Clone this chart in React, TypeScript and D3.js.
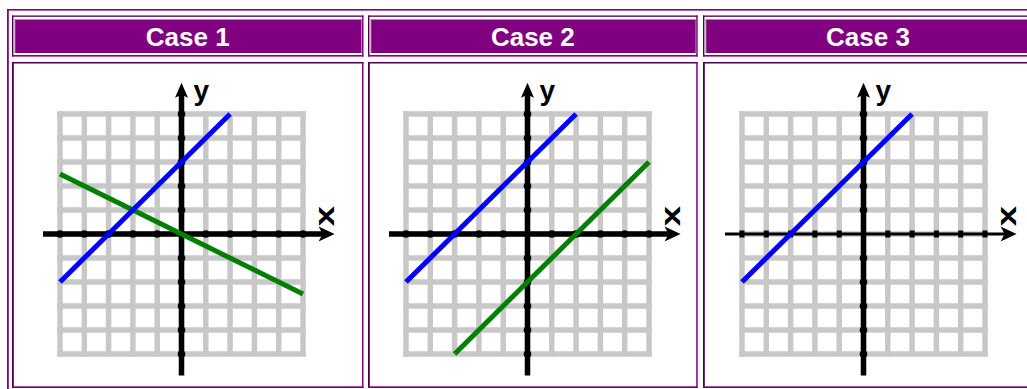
import { useEffect, useRef } from 'react';
import * as d3 from 'd3';

// header titles
const caseTitles = ['Case 1', 'Case 2', 'Case 3'];

// grid lines and axis ticks (graph units)
const gridTicks = [-5, -4, -3, -2, -1, 0, 1, 2, 3, 4, 5];
const axisTicks = [-5, -4, -3, -2, -1, 1, 2, 3, 4, 5];
const xAxisSpan = [-5.7, 6.3];
const yAxisSpan = [-5.9, 6.3];

// line end points
const blueLine = [{ x: -5, y: -2 }, { x: 2, y: 5 }];
const greenLineCase1 = [{ x: -5, y: 2.5 }, { x: 5, y: -2.5 }];
const greenLineCase2 = [{ x: -3, y: -5 }, { x: 5, y: 3 }];

const BLUE = '#0000ff';
const GREEN = '#008000';
const PURPLE = '#800080';
const DARK = '#4a0046';
const GRAY = '#c8c8c8';

const caseLines = [
  [{ pts: greenLineCase1, color: GREEN }, { pts: blueLine, color: BLUE }],
  [{ pts: blueLine, color: BLUE }, { pts: greenLineCase2, color: GREEN }],
  [{ pts: blueLine, color: BLUE }],
];

// layout
const W = 1027;
const H = 389;
const cellX = [[12, 363.5], [368, 697.7], [703, 1033]];
const gridLeft = [60, 406, 742];
const gridW = 243;
const gridTop = 114;
const gridBottom = 354;
const FONT = '"Liberation Sans", Arial, sans-serif';

const App = () => {
  const ref = useRef<SVGSVGElement>(null);

  useEffect(() => {
    const svg = d3.select(ref.current);
    svg.selectAll('*').remove();

    // outer table border
    svg.append('rect').attr('x', 7).attr('y', 9).attr('width', W).attr('height', 1.6).attr('fill', PURPLE);
    svg.append('rect').attr('x', 7).attr('y', 9).attr('width', 1.8).attr('height', H).attr('fill', PURPLE);

    caseTitles.forEach((title, i) => {
      const [x0, x1] = cellX[i];

      // header cell (inset border)
      const hdr = svg.append('g');
      hdr.append('rect').attr('x', x0 + 3).attr('y', 19.5).attr('width', x1 - x0 - 5).attr('height', 33.5).attr('fill', PURPLE);
      hdr.append('rect').attr('x', x0 + 2.5).attr('y', 19).attr('width', 1).attr('height', 34).attr('fill', '#b060b0');
      hdr.append('rect').attr('x', x0).attr('y', 15.5).attr('width', x1 - x0).attr('height', 1.3).attr('fill', DARK);
      hdr.append('rect').attr('x', x0).attr('y', 15.5).attr('width', 1.4).attr('height', 41).attr('fill', DARK);
      hdr.append('rect').attr('x', x0).attr('y', 55).attr('width', x1 - x0).attr('height', 1.6).attr('fill', PURPLE);
      hdr.append('rect').attr('x', x1 - 1.5).attr('y', 15.5).attr('width', 1.5).attr('height', 41).attr('fill', PURPLE);
      hdr.append('text')
        .attr('x', (x0 + x1) / 2)
        .attr('y', 45.5)
        .attr('text-anchor', 'middle')
        .attr('fill', '#fff')
        .attr('font-family', FONT)
        .attr('font-weight', 'bold')
        .attr('font-size', 26)
        .text(title);

      // body cell border
      const body = svg.append('g');
      body.append('rect').attr('x', x0).attr('y', 62).attr('width', x1 - x0).attr('height', 1.5).attr('fill', DARK);
      body.append('rect').attr('x', x0).attr('y', 62).attr('width', 1.8).attr('height', 326).attr('fill', DARK);
      body.append('rect').attr('x', x0).attr('y', 386.3).attr('width', x1 - x0).attr('height', 1.7).attr('fill', PURPLE);
      body.append('rect').attr('x', x1 - 1.5).attr('y', 62).attr('width', 1.5).attr('height', 326).attr('fill', PURPLE);

      // scales
      const xs = d3.scaleLinear().domain([-5, 5]).range([gridLeft[i], gridLeft[i] + gridW]);
      const ys = d3.scaleLinear().domain([-5, 5]).range([gridBottom, gridTop]);
      const g = svg.append('g');

      // grid
      g.selectAll('.vgrid').data(gridTicks).join('line')
        .attr('x1', d => xs(d)).attr('x2', d => xs(d))
        .attr('y1', ys(-5)).attr('y2', ys(5))
        .attr('stroke', GRAY).attr('stroke-width', 5.5).attr('stroke-linecap', 'square');
      g.selectAll('.hgrid').data(gridTicks).join('line')
        .attr('y1', d => ys(d)).attr('y2', d => ys(d))
        .attr('x1', xs(-5)).attr('x2', xs(5))
        .attr('stroke', GRAY).attr('stroke-width', 5.5).attr('stroke-linecap', 'square');

      const thinX = i === 2;

      // x axis
      const xTip = xs(xAxisSpan[1]);
      g.append('line')
        .attr('x1', xs(xAxisSpan[0])).attr('x2', xTip - 8)
        .attr('y1', ys(0)).attr('y2', ys(0))
        .attr('stroke', '#000').attr('stroke-width', thinX ? 3 : 5.5);
      g.append('path')
        .attr('d', `M${xTip},${ys(0)} L${xTip - 16},${ys(0) - 7.5} L${xTip - 12},${ys(0)} L${xTip - 16},${ys(0) + 7.5} Z`)
        .attr('fill', '#000');
      if (thinX) {
        g.selectAll('.xtick').data(axisTicks).join('rect')
          .attr('x', d => xs(d) - 2.5).attr('y', ys(0) - 3.5)
          .attr('width', 5).attr('height', 7).attr('fill', '#000');
      } else {
        g.selectAll('.xdot').data(axisTicks).join('circle')
          .attr('cx', d => xs(d)).attr('cy', ys(0)).attr('r', 3.8).attr('fill', '#000');
      }

      // y axis
      const yTip = ys(yAxisSpan[1]);
      g.append('line')
        .attr('x1', xs(0)).attr('x2', xs(0))
        .attr('y1', ys(yAxisSpan[0])).attr('y2', yTip + 8)
        .attr('stroke', '#000').attr('stroke-width', 5.5);
      g.append('path')
        .attr('d', `M${xs(0)},${yTip} L${xs(0) - 6.5},${yTip + 15} L${xs(0)},${yTip + 12} L${xs(0) + 6.5},${yTip + 15} Z`)
        .attr('fill', '#000');
      g.selectAll('.ydot').data(axisTicks).join('circle')
        .attr('cx', xs(0)).attr('cy', d => ys(d)).attr('r', 3.8).attr('fill', '#000');

      // axis labels
      g.append('text')
        .attr('x', xs(0) + 12)
        .attr('y', yTip + 17)
        .attr('font-family', FONT)
        .attr('font-weight', 'bold')
        .attr('font-size', 28)
        .text('y');
      g.append('text')
        .attr('transform', `translate(${xTip - 10},${ys(0) - 18}) rotate(-90) scale(1.35,1)`)
        .attr('text-anchor', 'middle')
        .attr('dominant-baseline', 'central')
        .attr('font-family', FONT)
        .attr('font-weight', 'bold')
        .attr('font-size', 27)
        .text('x');

      // lines
      const line = d3.line<{ x: number; y: number }>().x(d => xs(d.x)).y(d => ys(d.y));
      caseLines[i].forEach(l => {
        g.append('path')
          .datum(l.pts)
          .attr('d', line)
          .attr('fill', 'none')
          .attr('stroke', l.color)
          .attr('stroke-width', 5);
      });
    });
  }, []);

  return (
    <svg
      ref={ref}
      width={W}
      height={H}
      style={{ position: 'absolute', left: 0, top: 0, background: '#fff' }}
    />
  );
};

export default App;
